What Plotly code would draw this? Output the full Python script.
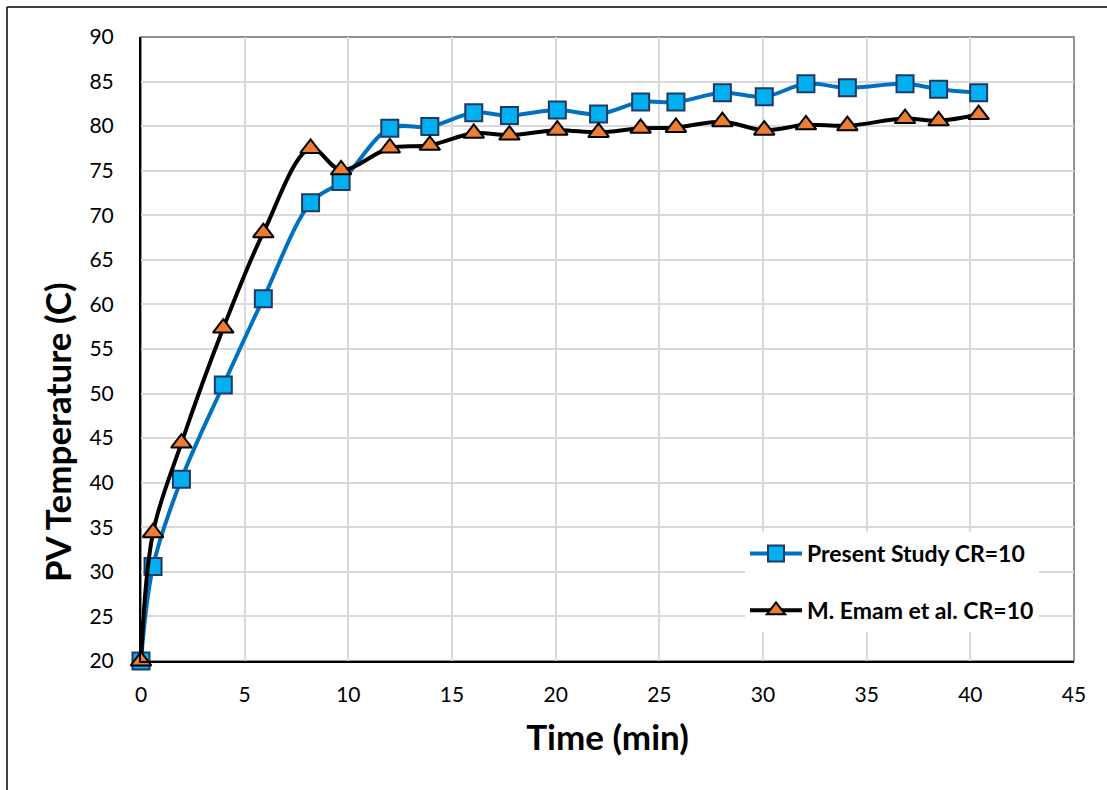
import plotly.graph_objects as go

time_min = [0, 0.58, 1.95, 3.97, 5.9, 8.18, 9.65, 12.0, 13.93, 16.05, 17.77,
            20.08, 22.07, 24.1, 25.8, 28.04, 30.06, 32.07, 34.07, 36.85, 38.47, 40.4]
present_study = [20.0, 30.6, 40.4, 50.96, 60.65, 71.4, 73.8, 79.75, 79.95, 81.5, 81.2,
                 81.8, 81.35, 82.7, 82.7, 83.75, 83.3, 84.75, 84.3, 84.75, 84.15, 83.75]
emam_et_al = [20.0, 34.4, 44.45, 57.35, 68.05, 77.5, 75.1, 77.55, 77.85, 79.2, 79.0,
              79.55, 79.3, 79.75, 79.85, 80.5, 79.55, 80.15, 80.05, 80.85, 80.6, 81.3]

x_ticks = list(range(0, 46, 5))
y_ticks = list(range(20, 91, 5))

FONT = "Lato"

fig = go.Figure()
fig.add_trace(go.Scatter(
    x=time_min, y=present_study, name="Present Study CR=10",
    mode="lines+markers", legendgroup="a",
    line=dict(color="#0070C0", width=4, shape="spline", smoothing=1.0),
    marker=dict(symbol="square", size=17, color="#00B0F0",
                line=dict(color="#1F3864", width=2)),
    cliponaxis=False,
))
fig.add_trace(go.Scatter(
    x=time_min, y=emam_et_al, name="M. Emam et al. CR=10",
    mode="lines+markers", legendgroup="b",
    line=dict(color="#000000", width=4, shape="spline", smoothing=1.0),
    marker=dict(symbol="triangle-up", size=18, color="#ED7D31",
                line=dict(color="#000000", width=2)),
    cliponaxis=False,
))

W, H = 1107, 790
L, R, T, B = 141, 1074, 37, 661


def px(xp):
    return (xp - L) / (R - L)


def py(yp):
    return (B - yp) / (B - T)


fig.update_layout(
    width=W, height=H,
    margin=dict(l=L, r=W - R, t=T, b=H - B),
    paper_bgcolor="white", plot_bgcolor="white",
    font=dict(family=FONT, color="#000000", size=21),
    showlegend=True,
    legend=dict(
        x=px(745), y=py(532), xanchor="left", yanchor="top",
        bgcolor="white", borderwidth=0,
        font=dict(family=FONT, size=23, color="#000000", weight="bold"),
        tracegroupgap=24, itemwidth=52,
    ),
    xaxis=dict(
        range=[0, 45], tickvals=x_ticks, ticktext=[str(v) for v in x_ticks],
        showgrid=True, gridcolor="#D9D9D9", gridwidth=1.5,
        showline=True, linecolor="#000000", linewidth=2,
        ticks="", zeroline=False, ticklabelstandoff=14,
        tickfont=dict(family=FONT, size=21, color="#000000"),
        title=dict(text="Time (min)", standoff=20,
                   font=dict(family=FONT, size=35, color="#000000", weight="bold")),
    ),
    yaxis=dict(
        range=[20, 90], tickvals=y_ticks, ticktext=[str(v) for v in y_ticks],
        showgrid=True, gridcolor="#D9D9D9", gridwidth=1.5,
        showline=True, linecolor="#000000", linewidth=2,
        ticks="", zeroline=False, ticklabelstandoff=21,
        tickfont=dict(family=FONT, size=21, color="#000000"),
    ),
    annotations=[dict(
        text="PV Temperature (C)", textangle=-90,
        xref="paper", yref="paper", x=px(57), y=py(432),
        xanchor="center", yanchor="middle", showarrow=False,
        font=dict(family=FONT, size=35, color="#000000", weight="bold"),
    )],
    shapes=[
        dict(type="rect", xref="paper", yref="paper", x0=0, y0=0, x1=1, y1=1,
             line=dict(color="#6E6E6E", width=1.5), layer="below"),
        dict(type="line", xref="paper", yref="paper",
             x0=px(7), y0=py(7), x1=px(7), y1=py(H + 5),
             line=dict(color="#000000", width=1.5)),
        dict(type="line", xref="paper", yref="paper",
             x0=px(7), y0=py(7), x1=px(W + 5), y1=py(7),
             line=dict(color="#000000", width=1.5)),
    ],
)

fig.write_html("out.html")
